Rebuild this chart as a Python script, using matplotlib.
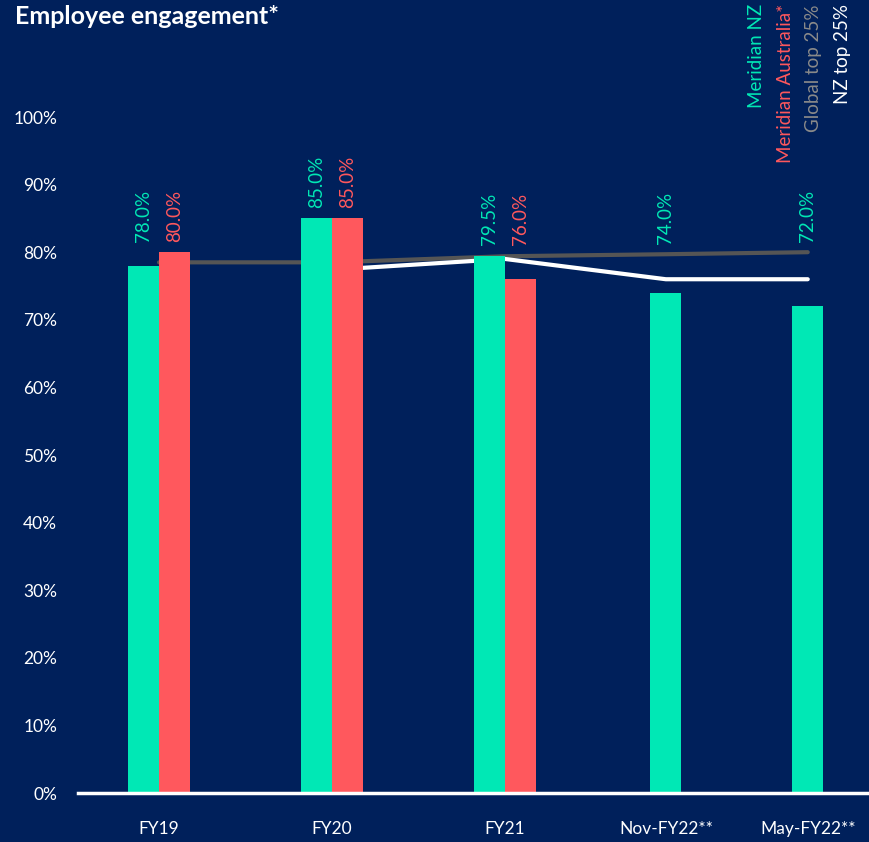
import numpy as np
import matplotlib
matplotlib.use('Agg')
import matplotlib.pyplot as plt

categories = ['FY19', 'FY20', 'FY21', 'Nov-FY22**', 'May-FY22**']
x_pos = [0, 1, 2, 2.93, 3.75]
meridian_nz = [78.0, 85.0, 79.5, 74.0, 72.0]
meridian_au = [80.0, 85.0, 76.0, np.nan, np.nan]
global_top25 = [78.5, 78.5, 79.4, 79.7, 80.0]
nz_top25 = [np.nan, 77.4, 79.0, 76.0, 76.0]
y_ticks = [0, 10, 20, 30, 40, 50, 60, 70, 80, 90, 100]

bg = '#00205B'
green = '#00E8B5'
red = '#FF585D'
grey = '#555555'

plt.rcParams['font.family'] = ['Lato', 'DejaVu Sans']

fig = plt.figure(figsize=(8.7, 8.42), dpi=100, facecolor=bg)
ax = fig.add_axes([78 / 870, 1 - 793 / 842, 1 - 78 / 870, (793 - 117) / 842])
ax.set_facecolor(bg)

w = 0.179
x = np.array(x_pos, dtype=float)
has_au = ~np.isnan(meridian_au)
x_nz = np.where(has_au, x - w / 2, x)
x_au = x + w / 2

# lines sit behind the bars
ax.plot(x, global_top25, color=grey, lw=3, solid_capstyle='round', zorder=1)
ax.plot(x, nz_top25, color='white', lw=3, solid_capstyle='round', zorder=1.5)

ax.bar(x_nz, meridian_nz, width=w, color=green, zorder=2)
ax.bar(x_au[has_au], np.array(meridian_au)[has_au], width=w, color=red, zorder=2)

for i in range(len(categories)):
    vals = [meridian_nz[i], meridian_au[i], global_top25[i], nz_top25[i]]
    top = np.nanmax(vals) + 1.5
    ax.text(x_nz[i], top, f'{meridian_nz[i]:.1f}%', rotation=90, ha='center', va='bottom',
            color=green, fontsize=13.5)
    if has_au[i]:
        ax.text(x_au[i], top, f'{meridian_au[i]:.1f}%', rotation=90, ha='center', va='bottom',
                color=red, fontsize=13.5)

ax.set_xlim((78 - 159) / 173, (870 - 159) / 173)
ax.set_ylim(0, 100)
ax.set_yticks(y_ticks)
ax.set_yticklabels([f'{t}%' for t in y_ticks], color='white', fontsize=12.5)
ax.set_xticks(x)
ax.set_xticklabels(categories, color='white', fontsize=12.5)
ax.tick_params(axis='both', length=0)
ax.tick_params(axis='y', pad=15)
ax.tick_params(axis='x', pad=20)
for s in ['top', 'right', 'left']:
    ax.spines[s].set_visible(False)
ax.spines['bottom'].set_color('white')
ax.spines['bottom'].set_linewidth(2.5)

fig.text(15 / 870, 1 - 5 / 842, 'Employee engagement*', color='white', fontsize=18,
         fontweight='bold', ha='left', va='top')

legend_items = [('Meridian NZ', green), ('Meridian Australia*', red),
                ('Global top 25%', '#8a8a8a'), ('NZ top 25%', 'white')]
for k, (name, col) in enumerate(legend_items):
    fig.text((757 + 28.5 * k) / 870, 1 - 4 / 842, name, rotation=90, color=col,
             fontsize=13.5, ha='center', va='top')

fig.savefig('out.png', dpi=100, facecolor=bg)
